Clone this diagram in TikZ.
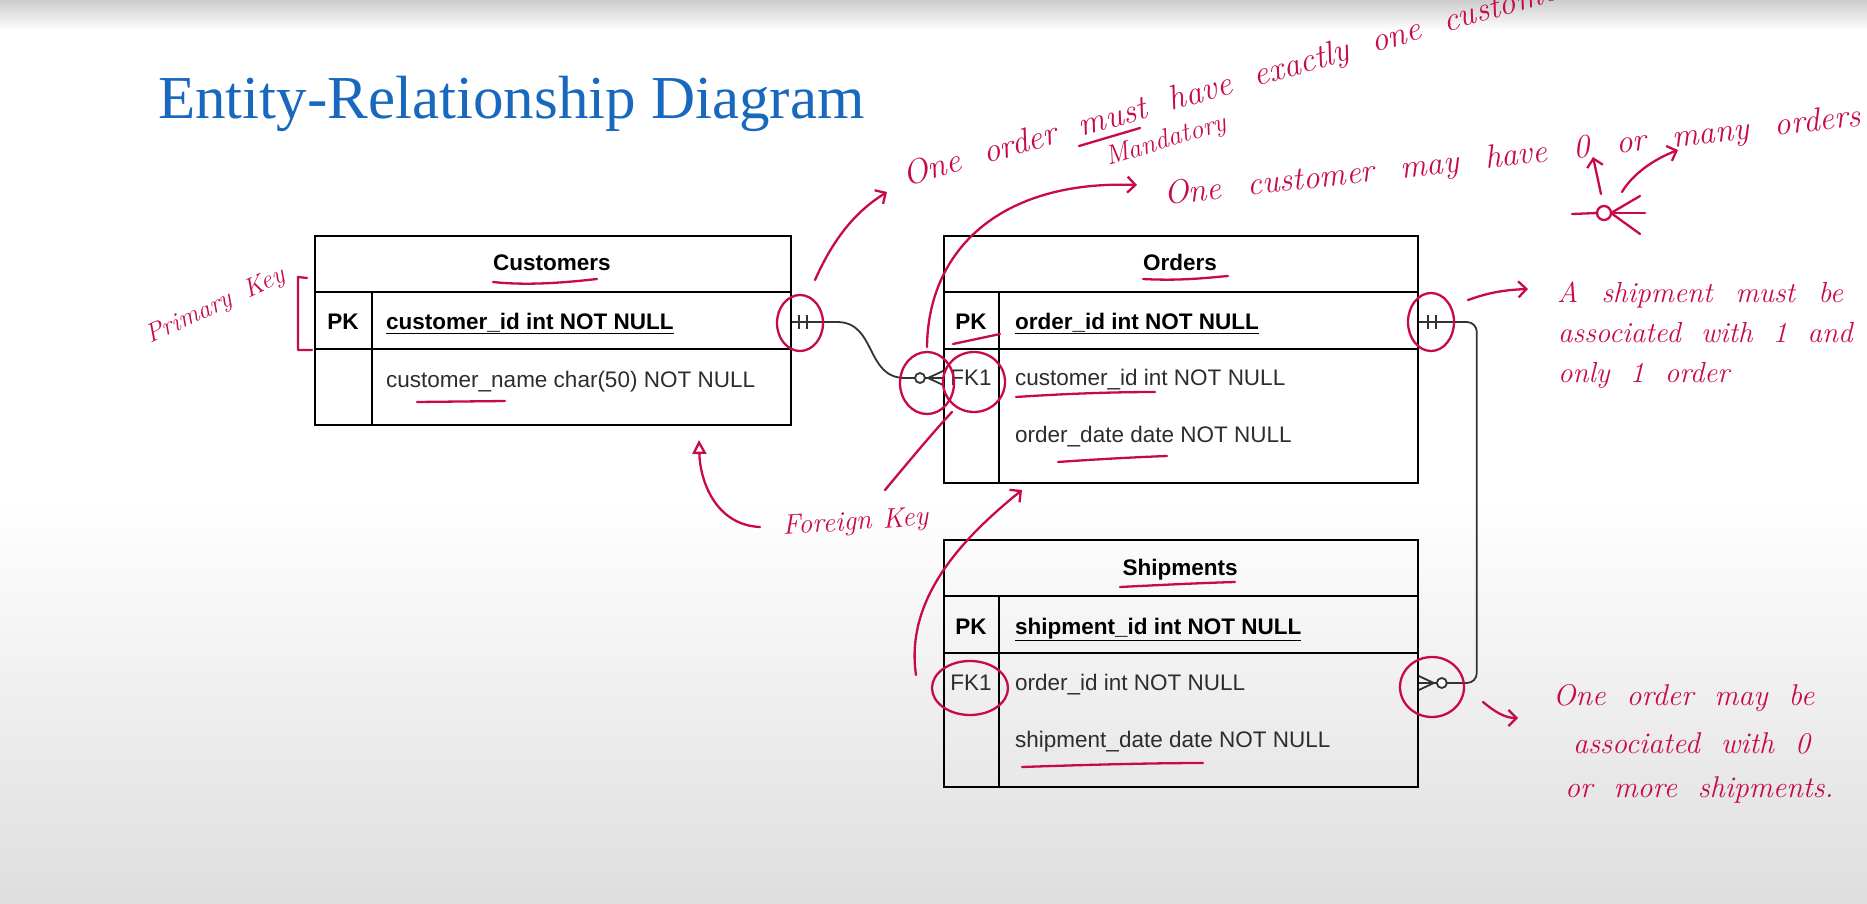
\documentclass[tikz,border=0pt]{standalone}
\usepackage{fontspec}
\setsansfont{Liberation Sans}
\newfontfamily\titlefont{Liberation Serif}
\usetikzlibrary{arrows.meta,calc}
\definecolor{titleblue}{RGB}{24,104,190}
\definecolor{handred}{RGB}{200,10,70}
\definecolor{tblgray}{RGB}{45,45,45}
\newcommand\hw[2]{\fontsize{#1}{#1}\selectfont\itshape\spaceskip=#2em\relax}
\tikzset{
  tline/.style={line width=1.8pt},
  tbl/.style={draw=black, line width=1.8pt, inner sep=0pt, anchor=north west},
  tabtext/.style={inner sep=0pt, text height=17pt, text depth=3pt},
  hdr/.style={tabtext, anchor=center, text=black, font=\sffamily\bfseries\fontsize{22.5}{26}\selectfont},
  keyb/.style={tabtext, anchor=center, text=black, font=\sffamily\bfseries\fontsize{22.5}{26}\selectfont},
  keyr/.style={tabtext, anchor=center, text=tblgray, font=\sffamily\fontsize{22.5}{26}\selectfont},
  fldb/.style={tabtext, anchor=west, text=black, font=\sffamily\bfseries\fontsize{22.5}{26}\selectfont},
  fld/.style={tabtext, anchor=west, text=tblgray, font=\sffamily\fontsize{22.5}{26}\selectfont},
  conn/.style={draw=black!80, line width=1.8pt},
  hand/.style={draw=handred, line width=2.3pt, line cap=round, line join=round},
  harrow/.style={hand, -{Straight Barb[length=8pt,width=16pt]}},
  htext/.style={text=handred, inner sep=0pt, anchor=base west},
}
\begin{document}
\begin{tikzpicture}[x=1pt,y=-1pt]
\useasboundingbox (0,0) rectangle (1867,904);
\fill[white] (0,0) rectangle (1867,904);
\shade[top color=black!20, bottom color=white] (0,0) rectangle (1867,30);
\shade[top color=white, bottom color=black!13] (0,500) rectangle (1867,904);

% title
\node[anchor=base west, inner sep=0pt, text=titleblue, font=\titlefont\fontsize{61}{70}\selectfont] (title) at (158,119) {Entity-Relationship Diagram};

% Customers
\node[tbl, minimum width=476pt, minimum height=189pt] (cust) at (314,235) {};
\draw[tline] (314,292) -- (790,292);
\draw[tline] (314,349) -- (790,349);
\draw[tline] (372,292) -- (372,424);
\node[hdr] (cust-h) at (552,263) {Customers};
\node[keyb] (cust-pk) at (343,322) {PK};
\node[fldb] (cust-id) at (386,322) {\underline{customer\_id int NOT NULL}};
\node[fld] (cust-name) at (386,380) {customer\_name char(50) NOT NULL};

% Orders
\node[tbl, minimum width=474pt, minimum height=247pt] (ord) at (943,235) {};
\draw[tline] (943,292) -- (1417,292);
\draw[tline] (943,349) -- (1417,349);
\draw[tline] (999,292) -- (999,482);
\node[hdr] (ord-h) at (1180,263) {Orders};
\node[keyb] (ord-pk) at (971,322) {PK};
\node[fldb] (ord-id) at (1015,322) {\underline{order\_id int NOT NULL}};
\node[keyr] (ord-fk) at (971,378) {FK1};
\node[fld] (ord-cid) at (1015,378) {customer\_id int NOT NULL};
\node[fld] (ord-date) at (1015,435) {order\_date date NOT NULL};

% Shipments
\node[tbl, minimum width=474pt, minimum height=247pt] (shp) at (943,539) {};
\draw[tline] (943,596) -- (1417,596);
\draw[tline] (943,653) -- (1417,653);
\draw[tline] (999,596) -- (999,786);
\node[hdr] (shp-h) at (1180,568) {Shipments};
\node[keyb] (shp-pk) at (971,627) {PK};
\node[fldb] (shp-id) at (1015,627) {\underline{shipment\_id int NOT NULL}};
\node[keyr] (shp-fk) at (971,683) {FK1};
\node[fld] (shp-oid) at (1015,683) {order\_id int NOT NULL};
\node[fld] (shp-date) at (1015,740) {shipment\_date date NOT NULL};

% connector Customers -> Orders
\coordinate (c1s) at (cust.east |- cust-id);
\coordinate (c1e) at (ord.west |- ord-fk);
\draw[conn] (c1s) -- ($(c1s)+(45,0)$) .. controls ($(c1s)+(85,0)$) and ($(c1e)+(-78,0)$) .. ($(c1e)+(-38,0)$) -- ($(c1e)+(-28,0)$);
\draw[conn] ($(c1s)+(7,-7)$) -- ($(c1s)+(7,7)$);
\draw[conn] ($(c1s)+(15,-7)$) -- ($(c1s)+(15,7)$);
\draw[conn, fill=white] ($(c1e)+(-23,0)$) circle (5);
\draw[conn] ($(c1e)+(-15,0)$) -- ($(c1e)+(0,-7)$);
\draw[conn] ($(c1e)+(-18,0)$) -- (c1e);
\draw[conn] ($(c1e)+(-15,0)$) -- ($(c1e)+(0,7)$);

% connector Orders -> Shipments
\coordinate (c2s) at (ord.east |- ord-id);
\coordinate (c2e) at (shp.east |- shp-fk);
\draw[conn, rounded corners=10pt] (c2s) -- ($(c2s)+(58,0)$) -- ($(c2e)+(58,0)$) -- ($(c2e)+(28,0)$);
\draw[conn] ($(c2s)+(9,-7)$) -- ($(c2s)+(9,7)$);
\draw[conn] ($(c2s)+(17,-7)$) -- ($(c2s)+(17,7)$);
\draw[conn, fill=white] ($(c2e)+(23,0)$) circle (5);
\draw[conn] ($(c2e)+(15,0)$) -- ($(c2e)+(0,-7)$);
\draw[conn] ($(c2e)+(18,0)$) -- (c2e);
\draw[conn] ($(c2e)+(15,0)$) -- ($(c2e)+(0,7)$);

% ---- handwritten annotations ----
% underlines
\draw[hand] (493,282) .. controls (530,286) and (570,282) .. (597,279);
\draw[hand] (417,402) -- (505,401);
\draw[hand] (1143,279) .. controls (1180,281) and (1205,278) .. (1228,276);
\draw[hand] (953,344) -- (1000,334);
\draw[hand] (1016,397) .. controls (1060,394) and (1110,392) .. (1155,392);
\draw[hand] (1058,462) .. controls (1100,459) and (1140,457) .. (1167,456);
\draw[hand] (1120,587) .. controls (1160,585) and (1200,583) .. (1235,582);
\draw[hand] (1022,767) .. controls (1080,765) and (1150,763) .. (1203,763);
% bracket
\draw[hand] (307,278) -- (298,277) -- (298,350) -- (312,350);
% circles
\draw[hand] (800,323) ellipse [x radius=23, y radius=28];
\draw[hand] (927,383) ellipse [x radius=27, y radius=31];
\draw[hand] (974,382) ellipse [x radius=31, y radius=30];
\draw[hand] (1431,322) ellipse [x radius=23, y radius=29];
\draw[hand] (970,688) ellipse [x radius=38, y radius=27];
\draw[hand] (1432,687) ellipse [x radius=32, y radius=30];

% texts
\node[htext, rotate=25, font={\hw{26}{0.6}}] (pkey) at (150,344) {Primary Key};
\node[htext, rotate=16, font={\hw{34}{0.7}}] (note1) at (906,187) {One order must have exactly one customer};
\draw[hand] (1079,146) -- (1140,128);
\node[htext, rotate=17, font={\hw{27}{0.5}}] (note1b) at (1108,166) {Mandatory};
\node[htext, rotate=6.5, font={\hw{33}{0.8}}] (note2) at (1165,205) {One customer may have 0 or many orders};
\node[htext, font={\hw{29}{0.8}}] (note3a) at (1557,302) {A shipment must be};
\node[htext, font={\hw{29}{0.7}}] (note3b) at (1558,342) {associated with 1 and};
\node[htext, font={\hw{29}{0.7}}] (note3c) at (1558,382) {only 1 order};
\node[htext, font={\hw{30}{0.7}}] (note4a) at (1553,705) {One order may be};
\node[htext, font={\hw{30}{0.7}}] (note4b) at (1573,753) {associated with 0};
\node[htext, font={\hw{30}{0.7}}] (note4c) at (1565,797) {or more shipments.};
\node[htext, rotate=4, font={\hw{28}{0.4}}] (fkey) at (783,535) {Foreign Key};

% arrows
\draw[harrow] (815,280) .. controls (835,235) and (858,210) .. (887,192);
\draw[harrow] (927,347) .. controls (928,250) and (1000,180) .. (1137,185);
\draw[harrow] (1468,300) .. controls (1485,294) and (1500,290) .. (1528,289);
\draw[harrow] (1483,702) .. controls (1495,712) and (1505,718) .. (1518,718);
\draw[hand, -{Triangle[open,length=14pt,width=14pt]}] (760,527) .. controls (715,525) and (700,480) .. (699,440);
\draw[hand] (885,490) .. controls (910,460) and (935,430) .. (952,412);
\draw[harrow] (916,675) .. controls (905,600) and (960,540) .. (1022,490);

% -o< symbol
\draw[hand] (1572,214) -- (1597,213);
\draw[hand] (1604,213) circle (7);
\draw[hand] (1611,213) -- (1640,196);
\draw[hand] (1611,213) -- (1645,213);
\draw[hand] (1611,213) -- (1640,234);
\draw[harrow] (1601,194) -- (1593,157);
\draw[harrow] (1622,192) .. controls (1632,175) and (1652,160) .. (1678,150);
\end{tikzpicture}
\end{document}
